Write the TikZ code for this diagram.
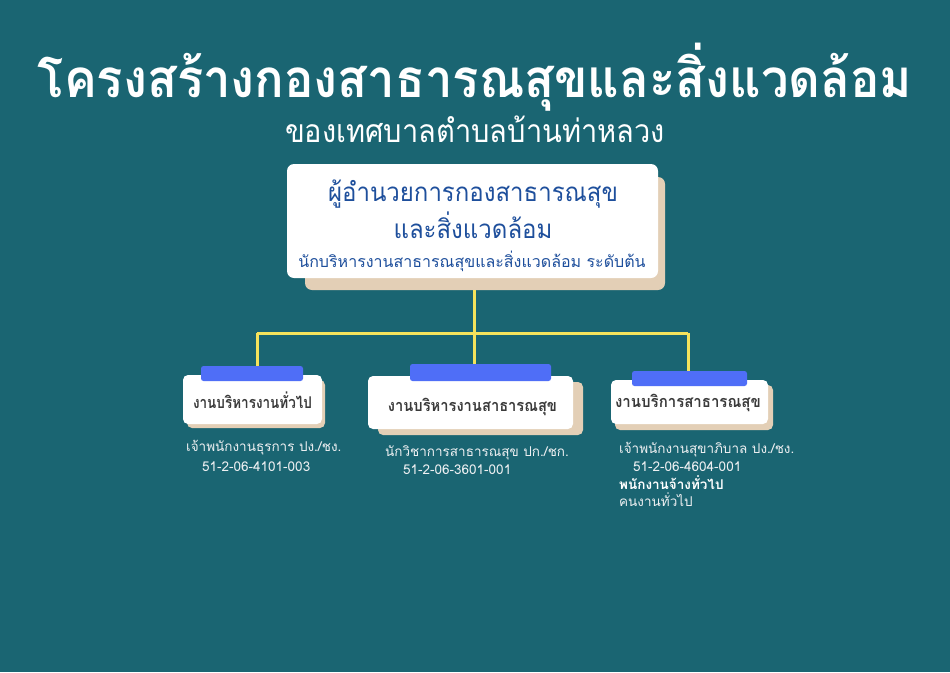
\documentclass[tikz,border=0pt]{standalone}
\usepackage{fontspec}
\setmainfont[Script=Thai]{Loma}
\definecolor{bgteal}{RGB}{26,101,114}
\definecolor{beige}{RGB}{227,207,182}
\definecolor{barblue}{RGB}{79,110,247}
\definecolor{lineyellow}{RGB}{245,227,92}
\definecolor{headblue}{RGB}{30,79,156}
\definecolor{darkgray}{RGB}{58,58,58}
\definecolor{lighttext}{RGB}{238,240,242}
\tikzset{
  conn/.style={draw=lineyellow, line width=3pt},
  shadowbox/.style={fill=beige, rounded corners=7pt},
  whitebox/.style={fill=white, rounded corners=7pt, inner sep=0pt},
  bluebar/.style={fill=barblue, rounded corners=2.5pt},
  unittext/.style={text=darkgray, font=\fontsize{15}{18}\selectfont\bfseries, inner sep=0pt},
  infotext/.style={text=lighttext, font=\fontsize{13.5}{15}\selectfont, anchor=west, inner sep=0pt},
}
\begin{document}
\begin{tikzpicture}[x=1pt,y=-1pt]
\fill[bgteal] (0,0) rectangle (950,672);
\useasboundingbox (0,0) rectangle (950,672);

% titles
\node[text=white, font=\fontsize{49}{60}\selectfont\bfseries, inner sep=0pt] (title) at (475,77) {\scalebox{1}[1.08]{โครงสร้างกองสาธารณสุขและสิ่งแวดล้อม}};
\node[text=white, font=\fontsize{29}{36}\selectfont, inner sep=0pt] (subtitle) at (475,129) {\scalebox{1}[1.1]{ของเทศบาลตำบลบ้านท่าหลวง}};

% coordinates of connector junctions
\coordinate (j) at (474,333);
\coordinate (jl) at (257,333);
\coordinate (jr) at (688,333);

% top box
\fill[shadowbox] (305,177) rectangle (665,290);
\node[whitebox, minimum width=371pt, minimum height=114pt] (top) at (472.5,221) {};
\node[text=headblue, font=\fontsize{24}{30}\selectfont, inner sep=0pt] (t1) at (473,194) {\scalebox{1}[1.08]{ผู้อำนวยการกองสาธารณสุข}};
\node[text=headblue, font=\fontsize{24}{30}\selectfont, inner sep=0pt] (t2) at (473,225) {\scalebox{1}[1.08]{และสิ่งแวดล้อม}};
\node[text=headblue, font=\fontsize{16}{20}\selectfont, inner sep=0pt] (t3) at (472,261) {นักบริหารงานสาธารณสุขและสิ่งแวดล้อม ระดับต้น};

% sub boxes: shadows and white boxes
\fill[shadowbox, rounded corners=5pt] (187,380) rectangle (325,428);
\node[whitebox, rounded corners=5pt, minimum width=139pt, minimum height=49pt] (boxL) at (252.5,399.5) {};
\fill[shadowbox, rounded corners=5pt] (378,382) rectangle (583,435);
\node[whitebox, rounded corners=5pt, minimum width=205pt, minimum height=53pt] (boxM) at (470.5,402.5) {};
\fill[shadowbox, rounded corners=5pt] (615,385) rectangle (773,430);
\node[whitebox, rounded corners=5pt, minimum width=157pt, minimum height=44pt] (boxR) at (689.5,402) {};

% blue bars
\node[bluebar, minimum width=102pt, minimum height=15pt, inner sep=0pt] (barL) at (252,373.5) {};
\node[bluebar, minimum width=141pt, minimum height=17pt, inner sep=0pt] (barM) at (480.5,372.5) {};
\node[bluebar, minimum width=115pt, minimum height=15pt, inner sep=0pt] (barR) at (689.5,378.5) {};

% connectors
\draw[conn] (j |- 0,290) -- (j);
\draw[conn] (jl) -- (jr);
\draw[conn] (jl) -- (jl |- barL.north);
\draw[conn] (j) -- (j |- barM.north);
\draw[conn] (jr) -- (jr |- barR.north);

% unit labels
\node[unittext] (uL) at (252.5,400) {\scalebox{0.9}[1.08]{งานบริหารงานทั่วไป}};
\node[unittext] (uM) at (472.5,407) {\scalebox{0.98}[1.08]{งานบริหารงานสาธารณสุข}};
\node[unittext] (uR) at (688,403) {\scalebox{1}[1.08]{งานบริการสาธารณสุข}};

% info texts
\node[infotext] (iL1) at (186,448) {เจ้าพนักงานธุรการ ปง./ชง.};
\node[infotext] (iL2) at (202,467) {51-2-06-4101-003};
\node[infotext] (iM1) at (385,453) {นักวิชาการสาธารณสุข ปก./ชก.};
\node[infotext] (iM2) at (403,470) {51-2-06-3601-001};
\node[infotext] (iR1) at (619,450) {เจ้าพนักงานสุขาภิบาล ปง./ชง.};
\node[infotext] (iR2) at (633,467) {51-2-06-4604-001};
\node[infotext, font=\fontsize{13.5}{15}\selectfont\bfseries, text=white] (iR3) at (619,483) {พนักงานจ้างทั่วไป};
\node[infotext] (iR4) at (619,500) {คนงานทั่วไป};
\end{tikzpicture}
\end{document}
